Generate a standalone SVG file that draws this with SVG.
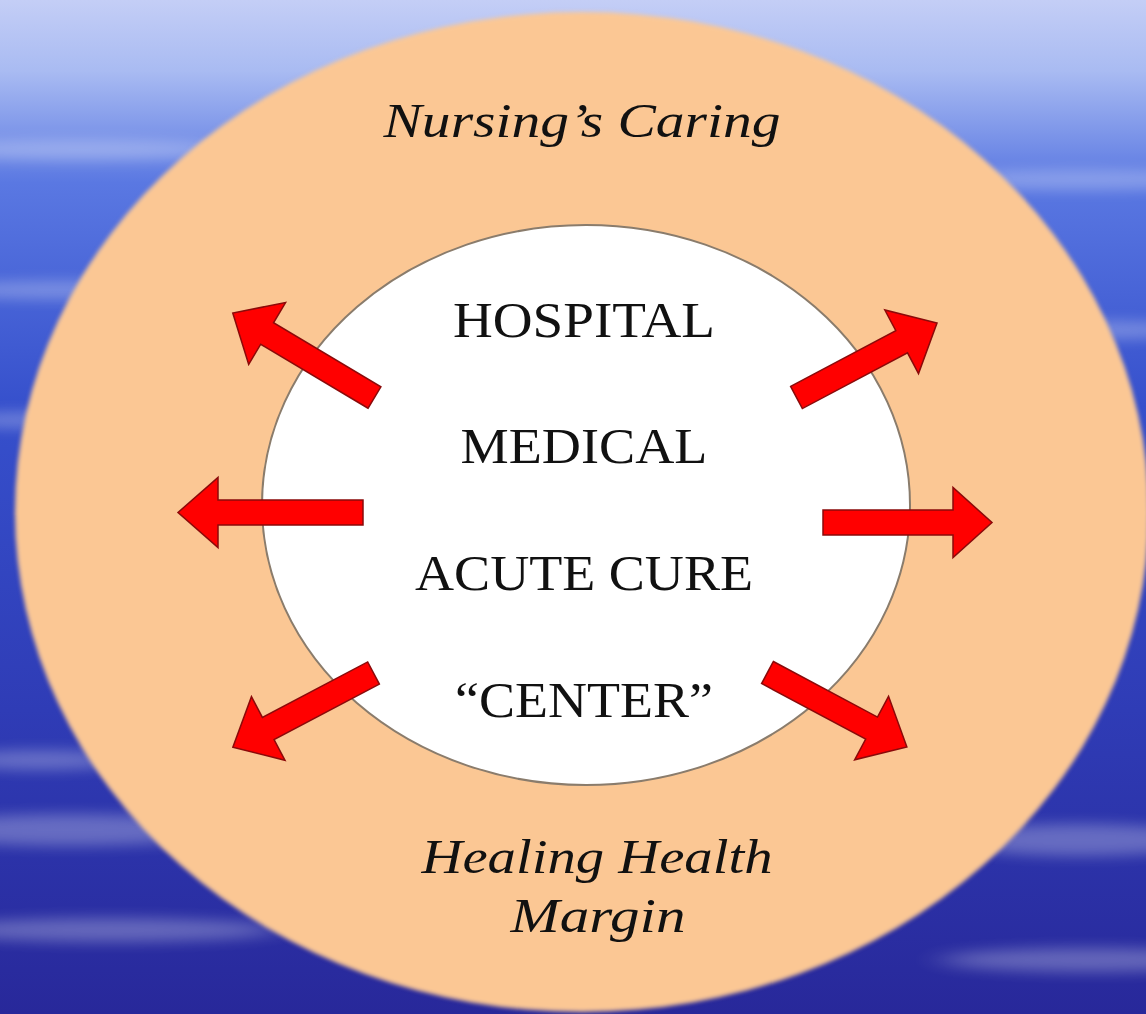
<svg xmlns="http://www.w3.org/2000/svg" width="1146" height="1014" viewBox="0 0 1146 1014">
  <defs>
    <linearGradient id="sky" x1="0" y1="0" x2="0" y2="1">
      <stop offset="0" stop-color="#c4cef6"/>
      <stop offset="0.07" stop-color="#a9bbf2"/>
      <stop offset="0.18" stop-color="#5a78e2"/>
      <stop offset="0.4" stop-color="#3650cc"/>
      <stop offset="0.7" stop-color="#2f3cb6"/>
      <stop offset="1" stop-color="#28289a"/>
    </linearGradient>
    <filter id="soft" x="-30%" y="-300%" width="160%" height="700%">
      <feGaussianBlur stdDeviation="18 7"/>
    </filter>
    <filter id="edge" x="-5%" y="-5%" width="110%" height="110%">
      <feGaussianBlur stdDeviation="2"/>
    </filter>
    <style>
      .arrow { fill: #ff0000; stroke: #8b0a0a; stroke-width: 1.5; stroke-linejoin: miter; }
      .caps { font-family: "Liberation Serif", "DejaVu Serif", serif; font-size: 50px; fill: #111; text-anchor: middle; }
      .script { font-family: "Liberation Serif", "DejaVu Serif", serif; font-style: italic; font-size: 48px; fill: #111; text-anchor: middle; }
      .streak { fill: #ffffff; filter: url(#soft); }
    </style>
  </defs>

  <!-- background -->
  <rect x="0" y="0" width="1146" height="1014" fill="url(#sky)"/>
  <g opacity="0.28">
    <ellipse class="streak" cx="80" cy="150" rx="150" ry="10"/>
    <ellipse class="streak" cx="60" cy="290" rx="130" ry="9"/>
    <ellipse class="streak" cx="40" cy="420" rx="100" ry="8"/>
    <ellipse class="streak" cx="1080" cy="180" rx="150" ry="10"/>
    <ellipse class="streak" cx="1100" cy="330" rx="110" ry="9"/>
    <ellipse class="streak" cx="70" cy="830" rx="160" ry="16"/>
    <ellipse class="streak" cx="110" cy="930" rx="170" ry="12"/>
    <ellipse class="streak" cx="1080" cy="840" rx="130" ry="16"/>
    <ellipse class="streak" cx="1090" cy="960" rx="150" ry="12"/>
    <ellipse class="streak" cx="40" cy="760" rx="90" ry="10"/>
  </g>

  <!-- outer ring -->
  <g id="outer">
    <ellipse cx="582" cy="512" rx="567" ry="500" fill="#fbc794" filter="url(#edge)"/>
    <text class="script" x="582" y="137" textLength="397" lengthAdjust="spacingAndGlyphs">Nursing’s Caring</text>
    <text class="script" x="597" y="873" textLength="351" lengthAdjust="spacingAndGlyphs">Healing Health</text>
    <text class="script" x="598" y="932" textLength="175" lengthAdjust="spacingAndGlyphs">Margin</text>
  </g>

  <!-- inner center -->
  <g id="center">
    <ellipse cx="586" cy="505" rx="324" ry="280" fill="#ffffff" stroke="#8a7c6c" stroke-width="2"/>
    <text class="caps" x="584" y="337" textLength="262" lengthAdjust="spacingAndGlyphs">HOSPITAL</text>
    <text class="caps" x="584" y="463" textLength="247" lengthAdjust="spacingAndGlyphs">MEDICAL</text>
    <text class="caps" x="584" y="590" textLength="338" lengthAdjust="spacingAndGlyphs">ACUTE CURE</text>
    <text class="caps" x="584" y="717" textLength="258" lengthAdjust="spacingAndGlyphs">“CENTER”</text>
  </g>

  <!-- connectors: outward arrows -->
  <g id="arrows">
    <path class="arrow" transform="translate(374.5,397.5) rotate(210.8)" d="M0,-12.5 L125,-12.5 L125,-36 L165,0 L125,36 L125,12.5 L0,12.5 Z"/>
    <path class="arrow" transform="translate(363,512.5) rotate(180)" d="M0,-12.5 L145,-12.5 L145,-35 L185,0 L145,35 L145,12.5 L0,12.5 Z"/>
    <path class="arrow" transform="translate(373.5,673) rotate(152.2)" d="M0,-12.5 L119,-12.5 L119,-36 L159,0 L119,36 L119,12.5 L0,12.5 Z"/>
    <path class="arrow" transform="translate(796.5,397.5) rotate(-27.9)" d="M0,-12.5 L119,-12.5 L119,-36 L159,0 L119,36 L119,12.5 L0,12.5 Z"/>
    <path class="arrow" transform="translate(823,522.5)" d="M0,-12.5 L130,-12.5 L130,-35 L169,0 L130,35 L130,12.5 L0,12.5 Z"/>
    <path class="arrow" transform="translate(767.5,672.5) rotate(28.1)" d="M0,-12.5 L118,-12.5 L118,-36 L158,0 L118,36 L118,12.5 L0,12.5 Z"/>
  </g>
</svg>
